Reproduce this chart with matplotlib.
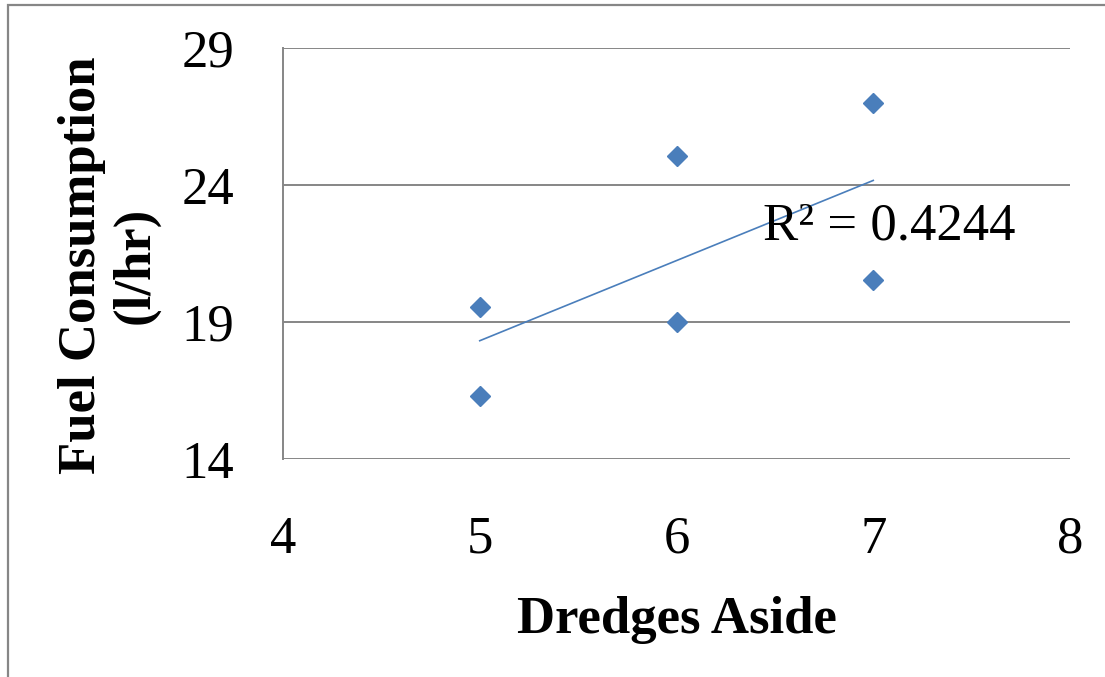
import numpy as np
import matplotlib.pyplot as plt
from matplotlib.patches import Rectangle

# values
dredges = [5, 5, 6, 6, 7, 7]
fuel = [19.55, 16.3, 25.05, 19.0, 27.0, 20.55]
x_ticks = [4, 5, 6, 7, 8]
y_ticks = [14, 19, 24, 29]
r2_label = "R² = 0.4244"

blue = '#4a7ebb'
grey = '#868686'
serif = ['Liberation Serif', 'DejaVu Serif']

fig = plt.figure(figsize=(11.05, 6.77), dpi=100)
W, H = 1105, 677

# outer chart border (grey frame, cut by the image edge)
fig.patches.append(Rectangle((8 / W, -0.1), 1.2, 1 - 5 / H + 0.1,
                             transform=fig.transFigure, fill=False,
                             edgecolor=grey, linewidth=1.6))

ax = fig.add_axes([283 / W, 1 - 459 / H, (1070 - 283) / W, (459 - 48) / H])

ax.plot(dredges, fuel, 'D', color=blue, markersize=10, zorder=3)

# linear trendline
m, b = np.polyfit(dredges, fuel, 1)
xt = np.array([min(dredges), max(dredges)])
ax.plot(xt, m * xt + b, '-', color=blue, linewidth=1.2, zorder=2)

ax.set_xlim(4, 8)
ax.set_ylim(14, 29)
ax.set_xticks(x_ticks)
ax.set_yticks(y_ticks)
ax.yaxis.grid(True, color=grey, linewidth=1.4)
ax.set_axisbelow(True)
for s in ['top', 'right', 'bottom']:
    ax.spines[s].set_visible(False)
ax.spines['left'].set_color(grey)
ax.spines['left'].set_linewidth(1.4)
ax.tick_params(length=0, labelsize=38)
ax.tick_params(axis='x', pad=41)
ax.tick_params(axis='y', pad=35)
for lab in ax.get_xticklabels() + ax.get_yticklabels():
    lab.set_family(serif)

ax.text(6.44, 22.5, r2_label, fontsize=38, family=serif, va='center', ha='left')

fig.text(677 / W, 1 - 620 / H, 'Dredges Aside', fontsize=38, fontweight='bold',
         family=serif, ha='center', va='center')
fig.text(109 / W, 1 - 265 / H, 'Fuel Consumption\n(l/hr)', fontsize=38,
         fontweight='bold', family=serif, ha='center', va='center',
         rotation=90, linespacing=1.15)

fig.savefig('out.png', dpi=100)
